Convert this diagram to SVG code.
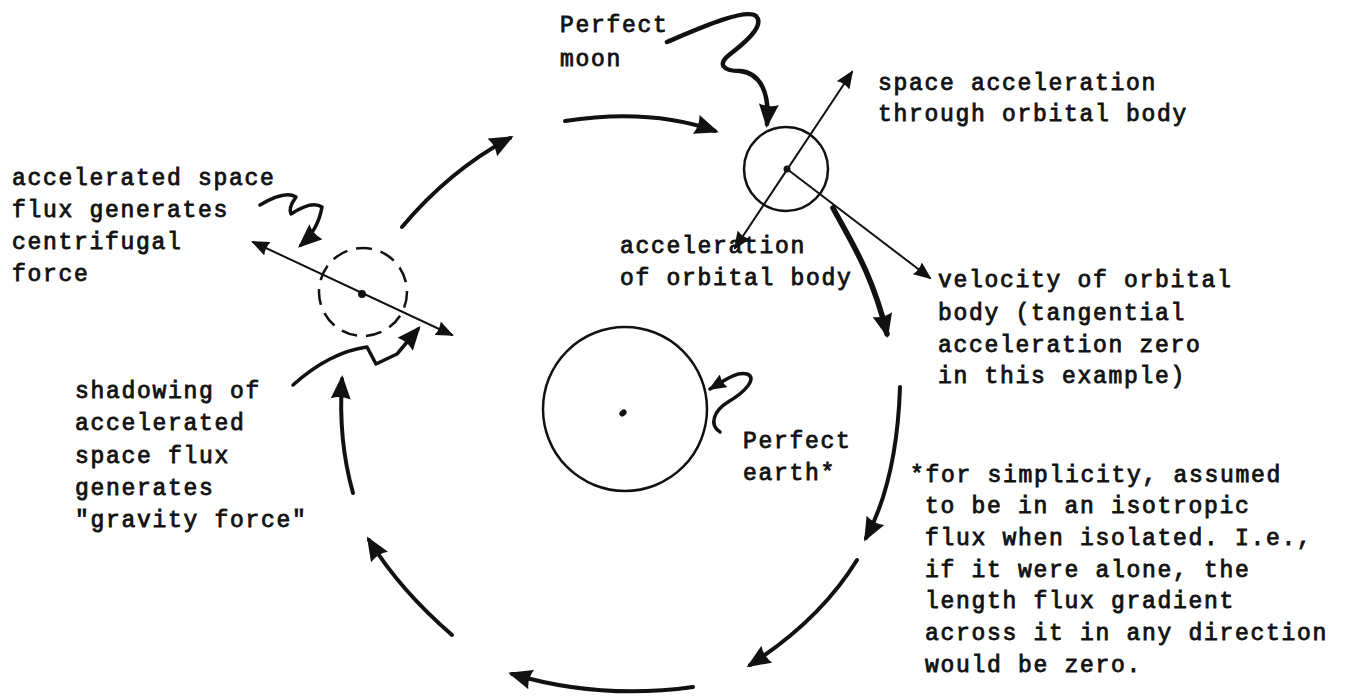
<svg xmlns="http://www.w3.org/2000/svg" width="1345" height="698" viewBox="0 0 1345 698">
<defs>
<style>
.t{font-family:"Liberation Mono","DejaVu Sans Mono",monospace;font-size:23px;letter-spacing:1.7px;fill:#111;stroke:#111;stroke-width:0.85}
.c{fill:none;stroke:#111;stroke-linecap:round;stroke-linejoin:round}
.flow{stroke-width:4}
.thin{stroke-width:2}
.body{fill:none;stroke:#111;stroke-width:2.5}
</style>
<marker id="ah" markerUnits="userSpaceOnUse" markerWidth="24" markerHeight="20" viewBox="0 0 24 20" refX="20" refY="10" orient="auto">
<path d="M0,0 L24,10 L0,20 Q4,10 0,0 z" fill="#111"/>
</marker>
<marker id="ahs" markerUnits="userSpaceOnUse" markerWidth="18" markerHeight="15" viewBox="0 0 18 15" refX="16" refY="7.5" orient="auto-start-reverse">
<path d="M0,0 L18,7.5 L0,15 Q3,7.5 0,0 z" fill="#111"/>
</marker>
</defs>
<rect width="1345" height="698" fill="#fff"/>

<g id="moon">
<circle class="body" cx="786" cy="169" r="42"/>
<circle cx="787" cy="169" r="3.5" fill="#111"/>
</g>

<g id="earth">
<circle class="body" cx="625" cy="409" r="82"/>
<ellipse cx="623" cy="413" rx="4" ry="3" transform="rotate(-40 623 413)" fill="#111"/>
</g>

<g id="left-body">
<circle class="body" cx="363" cy="292" r="44" stroke-dasharray="16 9"/>
<circle cx="362" cy="294" r="4" fill="#111"/>
</g>

<g id="connectors">
<path class="c flow" d="M402,227 Q450,170 510,138" marker-end="url(#ah)"/>
<path class="c flow" d="M565,121 Q650,108 715,131" marker-end="url(#ah)"/>
<path class="c" stroke-width="4.5" d="M667,42 C700,28 745,8 756,16 C766,26 742,45 729,55 C718,64 722,71 740,71 C760,73 770,92 767,124" marker-end="url(#ah)"/>
<path class="c" stroke-width="5.5" d="M833,208 C850,240 872,272 887,334" marker-end="url(#ah)"/>
<path class="c flow" d="M900,387 Q897,480 866,538" marker-end="url(#ah)"/>
<path class="c flow" d="M857,560 Q820,620 750,665" marker-end="url(#ah)"/>
<path class="c flow" d="M693,687 Q600,700 512,674" marker-end="url(#ah)"/>
<path class="c flow" d="M452,635 Q400,590 369,540" marker-end="url(#ah)"/>
<path class="c flow" d="M353,493 Q338,440 342,379" marker-end="url(#ah)"/>
<path class="c" stroke-width="3.5" d="M293,385 Q330,352 367,347 L376,364 L397,354 L418,329" marker-end="url(#ah)"/>
<path class="c" stroke-width="3.5" d="M260,205 Q285,190 296,197 Q288,208 291,214 Q312,200 322,207 Q318,230 301,245" marker-end="url(#ah)"/>
<path class="c" stroke-width="3.5" d="M720,432 C708,424 715,410 728,402 C745,392 758,378 747,374 C737,371 725,380 710,389" marker-end="url(#ahs)"/>
<path class="c thin" d="M253,242 L452,335" marker-start="url(#ahs)" marker-end="url(#ahs)"/>
<path class="c thin" d="M735,248 L852,72" marker-start="url(#ahs)" marker-end="url(#ahs)"/>
<path class="c thin" d="M787,169 L930,278" marker-end="url(#ahs)"/>
</g>

<g id="labels">
<text class="t" x="560" y="32">Perfect</text>
<text class="t" x="560" y="66">moon</text>
<text class="t" x="878" y="90">space acceleration</text>
<text class="t" x="878" y="121">through orbital body</text>
<text class="t" x="620" y="253">acceleration</text>
<text class="t" x="620" y="285">of orbital body</text>
<text class="t" x="938" y="287">velocity of orbital</text>
<text class="t" x="938" y="320">body (tangential</text>
<text class="t" x="938" y="352">acceleration zero</text>
<text class="t" x="938" y="383">in this example)</text>
<text class="t" x="12" y="185">accelerated space</text>
<text class="t" x="12" y="217">flux generates</text>
<text class="t" x="12" y="249">centrifugal</text>
<text class="t" x="12" y="281">force</text>
<text class="t" x="75" y="398">shadowing of</text>
<text class="t" x="75" y="430">accelerated</text>
<text class="t" x="75" y="463">space flux</text>
<text class="t" x="75" y="495">generates</text>
<text class="t" x="75" y="527">"gravity force"</text>
<text class="t" x="743" y="448">Perfect</text>
<text class="t" x="743" y="480">earth*</text>
<text class="t" x="910" y="482">*for simplicity, assumed</text>
<text class="t" x="925" y="513">to be in an isotropic</text>
<text class="t" x="925" y="545">flux when isolated. I.e.,</text>
<text class="t" x="925" y="577">if it were alone, the</text>
<text class="t" x="925" y="608">length flux gradient</text>
<text class="t" x="925" y="640">across it in any direction</text>
<text class="t" x="925" y="672">would be zero.</text>
</g>
</svg>
